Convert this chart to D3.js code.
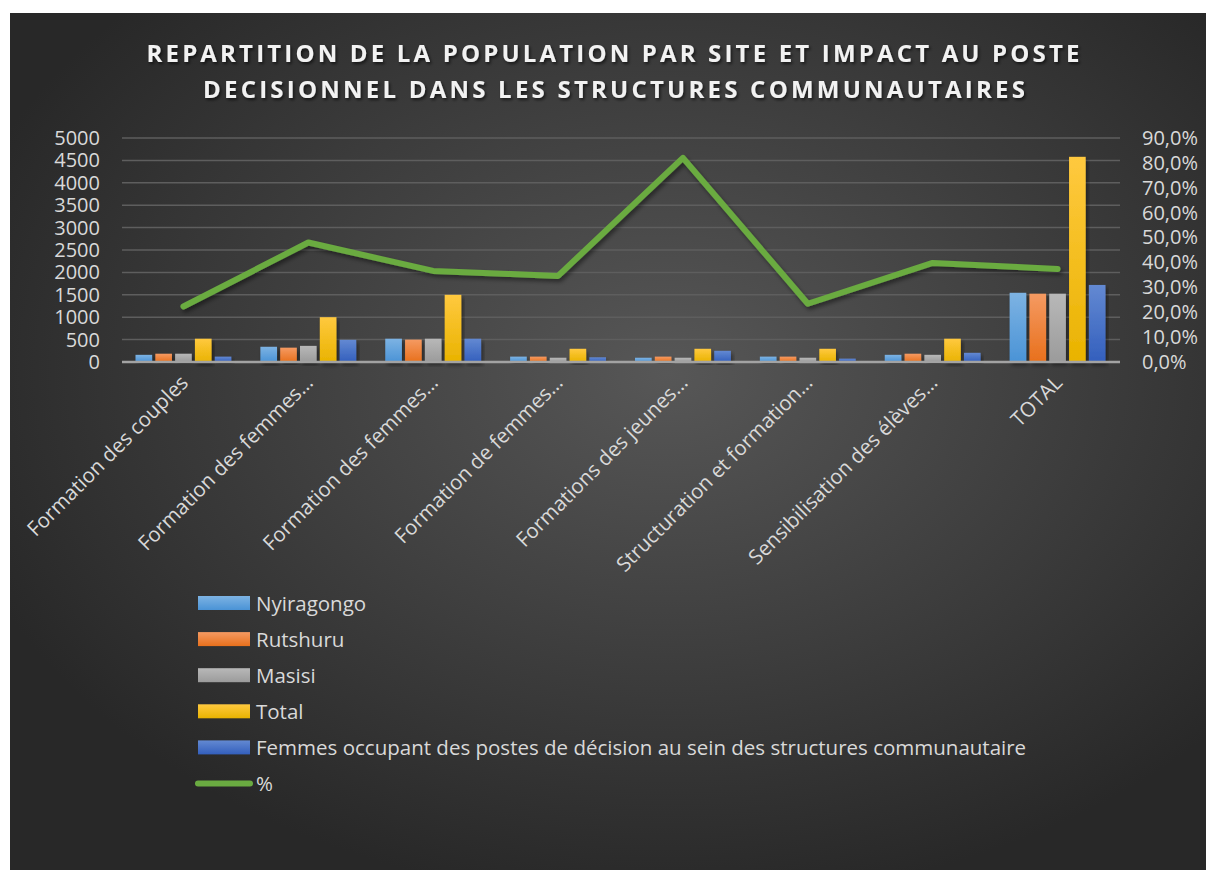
<!DOCTYPE html>
<html>
<head>
<meta charset="utf-8">
<script src="https://cdn.jsdelivr.net/npm/d3@7"></script>
<style>
  body { margin: 0; background: #fff; }
  text { font-family: "Open Sans", sans-serif; }
</style>
</head>
<body>
<script>
var categories = ["Formation des couples", "Formation des femmes…", "Formation des femmes…",
    "Formation de femmes…", "Formations des jeunes…", "Structuration et formation…",
    "Sensibilisation des élèves…", "TOTAL"];
var nyiragongo = [160, 340, 520, 120, 95, 120, 160, 1545];
var rutshuru = [185, 320, 500, 120, 120, 120, 185, 1525];
var masisi = [185, 360, 520, 95, 95, 95, 160, 1525];
var total = [520, 1000, 1500, 295, 295, 295, 520, 4580];
var femmes = [120, 495, 520, 105, 250, 75, 205, 1720];
var pct = [22.3, 48.0, 36.6, 34.6, 82.0, 23.4, 39.8, 37.4];
var leftTicks = d3.range(0, 5001, 500);
var rightTicks = d3.range(0, 91, 10);

var series = [
    { name: "Nyiragongo", values: nyiragongo, c1: "#7db3e3", c2: "#4a93d6" },
    { name: "Rutshuru", values: rutshuru, c1: "#f59a62", c2: "#e8701c" },
    { name: "Masisi", values: masisi, c1: "#b8b8b8", c2: "#9b9b9b" },
    { name: "Total", values: total, c1: "#ffc93f", c2: "#e9b300" },
    { name: "Femmes occupant des postes de décision au sein des structures communautaire", values: femmes, c1: "#6389d2", c2: "#335fbd" }
];

var svg = d3.select('body')
    .append("svg")
    .attr('width', 1206)
    .attr('height', 870);

var defs = svg.append("defs");
var bg = defs.append("radialGradient").attr("id", "bg")
    .attr("cx", "55%").attr("cy", "42%").attr("r", "62%");
bg.append("stop").attr("offset", "0%").attr("stop-color", "#575757");
bg.append("stop").attr("offset", "100%").attr("stop-color", "#282828");

series.forEach(function(s, i) {
    var g = defs.append("linearGradient").attr("id", "g" + i)
        .attr("x1", 0).attr("y1", 0).attr("x2", 0).attr("y2", 1);
    g.append("stop").attr("offset", "0%").attr("stop-color", s.c1);
    g.append("stop").attr("offset", "100%").attr("stop-color", s.c2);
});

var shadow = defs.append("filter").attr("id", "shadow")
    .attr("x", "-20%").attr("y", "-20%").attr("width", "140%").attr("height", "140%");
shadow.append("feDropShadow").attr("dx", 2).attr("dy", 3).attr("stdDeviation", 2)
    .attr("flood-color", "#000").attr("flood-opacity", 0.45);

var tshadow = defs.append("filter").attr("id", "tshadow");
tshadow.append("feDropShadow").attr("dx", 1.5).attr("dy", 2).attr("stdDeviation", 1.5)
    .attr("flood-color", "#000").attr("flood-opacity", 0.6);

svg.append("rect")
    .attr("x", 10).attr("y", 13)
    .attr("width", 1196).attr("height", 857)
    .style("fill", "url(#bg)");

// title
svg.append("text")
    .attr("x", 613).attr("y", 62)
    .attr("text-anchor", "middle")
    .attr("textLength", 933).attr("lengthAdjust", "spacing")
    .style("font-size", "24px").style("font-weight", "bold")
    .style("fill", "#f2f2f2")
    .attr("filter", "url(#tshadow)")
    .text("REPARTITION DE LA POPULATION PAR SITE ET IMPACT AU POSTE");
svg.append("text")
    .attr("x", 614).attr("y", 98)
    .attr("text-anchor", "middle")
    .attr("textLength", 822).attr("lengthAdjust", "spacing")
    .style("font-size", "24px").style("font-weight", "bold")
    .style("fill", "#f2f2f2")
    .attr("filter", "url(#tshadow)")
    .text("DECISIONNEL DANS LES STRUCTURES COMMUNAUTAIRES");

var x0 = d3.scaleBand()
    .domain(d3.range(categories.length))
    .range([121, 1120]);

var x1 = d3.scaleBand()
    .domain(d3.range(series.length))
    .range([14.5, x0.bandwidth() - 14.5])
    .paddingInner(0.16);

var y = d3.scaleLinear().domain([0, 5000]).range([362, 138]);
var y2 = d3.scaleLinear().domain([0, 90]).range([362, 138]);

// gridlines
svg.selectAll(".grid")
    .data(leftTicks.slice(1))
    .enter().append("line")
    .attr("x1", 122).attr("x2", 1120)
    .attr("y1", function(d) { return y(d); })
    .attr("y2", function(d) { return y(d); })
    .style("stroke", "#5e5e5e")
    .style("stroke-width", 1.5);

// axes
var left = svg.append("g")
    .attr("transform", "translate(122,0)")
    .call(d3.axisLeft(y).tickValues(leftTicks).tickSize(0).tickPadding(22)
        .tickFormat(d3.format("d")));
var right = svg.append("g")
    .attr("transform", "translate(1120,0)")
    .call(d3.axisRight(y2).tickValues(rightTicks).tickSize(0).tickPadding(22)
        .tickFormat(function(d) { return d3.format(".1f")(d).replace(".", ",") + "%"; }));
[left, right].forEach(function(a) {
    a.select(".domain").remove();
    a.selectAll("text")
        .style("font-size", "20px")
        .style("font-family", "'Open Sans', sans-serif")
        .style("fill", "#d9d9d9");
});

// bars
var groups = svg.selectAll(".cat")
    .data(categories)
    .enter().append("g")
    .attr("transform", function(d, i) { return "translate(" + x0(i) + ",0)"; });

series.forEach(function(s, si) {
    groups.append("rect")
        .attr("x", x1(si))
        .attr("width", x1.bandwidth())
        .attr("y", function(d, i) { return y(s.values[i]); })
        .attr("height", function(d, i) { return y(0) - y(s.values[i]); })
        .style("fill", "url(#g" + si + ")")
        .attr("filter", "url(#shadow)");
});

// baseline
svg.append("line")
    .attr("x1", 122).attr("x2", 1120)
    .attr("y1", y(0)).attr("y2", y(0))
    .style("stroke", "#a3a3a3")
    .style("stroke-width", 2.5);

// % line
var line = d3.line()
    .x(function(d, i) { return x0(i) + x0.bandwidth() / 2; })
    .y(function(d) { return y2(d); });

svg.append("path")
    .datum(pct)
    .attr("d", line)
    .style("fill", "none")
    .style("stroke", "#6aab41")
    .style("stroke-width", 6)
    .style("stroke-linecap", "round")
    .style("stroke-linejoin", "round")
    .attr("filter", "url(#shadow)");

// x labels
groups.append("text")
    .attr("transform", function() {
        return "translate(" + (x0.bandwidth() / 2 + 6) + ",384) rotate(-45)";
    })
    .attr("text-anchor", "end")
    .style("font-size", "20.5px")
    .style("fill", "#d9d9d9")
    .text(function(d) { return d; });

// legend
var legend = svg.selectAll(".leg")
    .data(series.concat([{ name: "%", line: true }]))
    .enter().append("g")
    .attr("transform", function(d, i) { return "translate(198," + (603 + i * 36.1) + ")"; });

legend.each(function(d, i) {
    var g = d3.select(this);
    if (d.line) {
        g.append("line")
            .attr("x1", 0).attr("x2", 52)
            .style("stroke", "#6aab41")
            .style("stroke-width", 6)
            .style("stroke-linecap", "round");
    } else {
        g.append("rect")
            .attr("x", 0).attr("y", -7)
            .attr("width", 52).attr("height", 14)
            .style("fill", "url(#g" + i + ")");
    }
    g.append("text")
        .attr("x", 58).attr("y", 7.5)
        .style("font-size", "20.5px")
        .style("fill", "#d9d9d9")
        .text(d.name);
});
</script>
</body>
</html>
